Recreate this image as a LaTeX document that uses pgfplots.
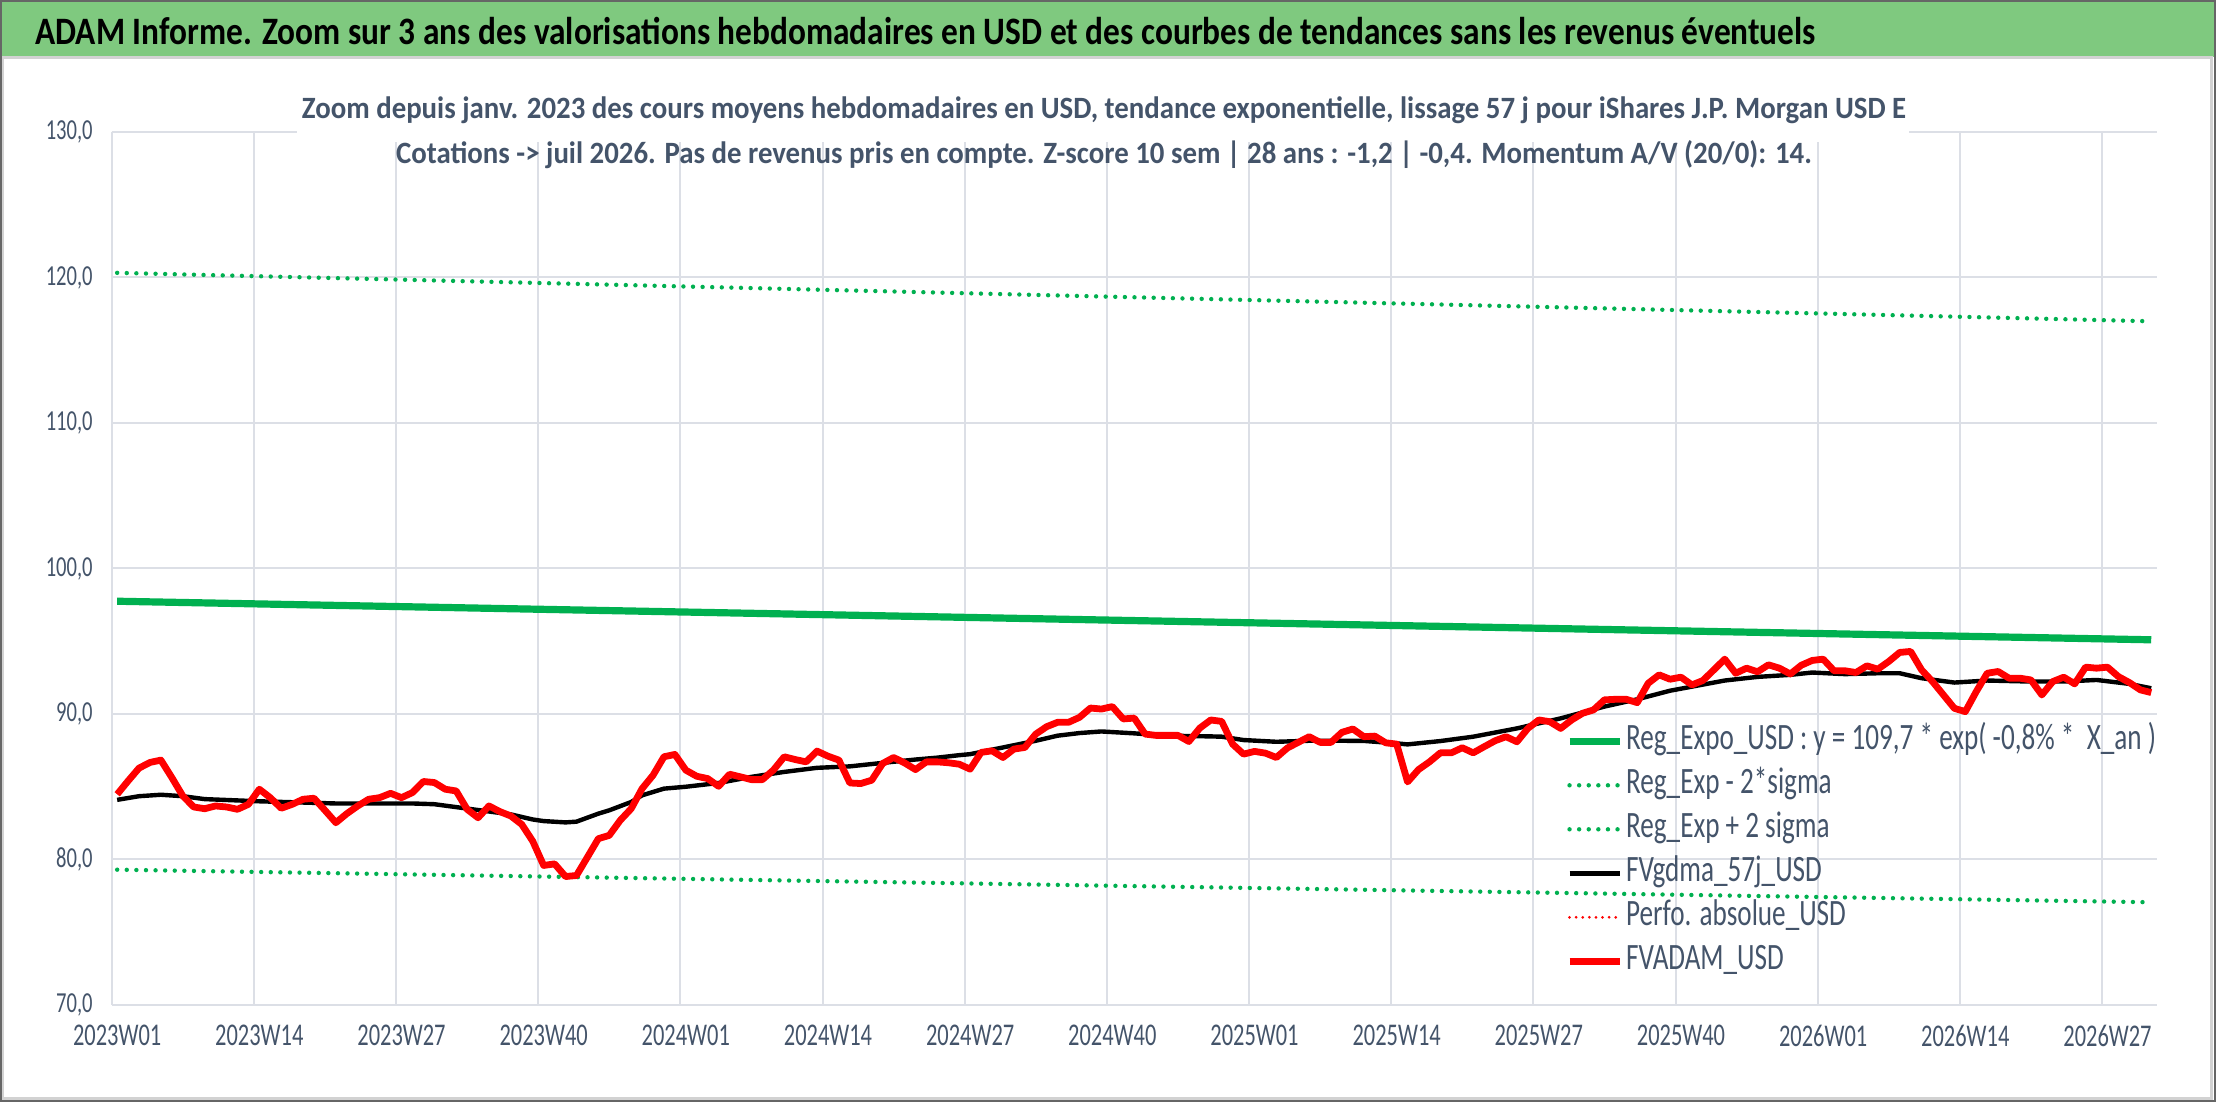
\documentclass[border=0pt]{standalone}
\usepackage{fontspec}
\setmainfont{Carlito}[FakeStretch=0.71]
\newfontfamily\legfont{Carlito}[FakeStretch=0.73]
\newfontfamily\titlefont{Carlito}[FakeStretch=0.86]
\newfontfamily\subfont{Carlito}[FakeStretch=0.93]
\usepackage{pgfplots}
\pgfplotsset{compat=1.18}
\definecolor{bannergreen}{HTML}{7FC97F}
\definecolor{xlgreen}{HTML}{00B050}
\definecolor{txt}{HTML}{44546A}
\definecolor{gridc}{HTML}{DCDFE6}
\begin{document}
\begin{tikzpicture}
\useasboundingbox (0,0) rectangle (1108pt,551pt);
\fill[white] (0,0) rectangle (1108pt,551pt);
\fill[bannergreen] (0,522.5pt) rectangle (1108pt,551pt);
\draw[gray!35, line width=1.5pt] (1pt,1.5pt) rectangle (1105.5pt,522pt);
\draw[gray!80!black, line width=0.8pt] (0.4pt,0.4pt) rectangle (1107.6pt,550.6pt);
\node[anchor=base west, font=\titlefont\bfseries\fontsize{19.4}{22}\selectfont, text=black, inner sep=0pt] at (17.5pt,528.5pt)
  {ADAM Informe. Zoom sur 3 ans des valorisations hebdomadaires en USD et des courbes de tendances sans les revenus éventuels};
\begin{axis}[
  at={(55.85pt,48.5pt)}, anchor=south west,
  scale only axis, width=1022.5pt, height=436.5pt,
  xmin=-0.5, xmax=186.5, ymin=70, ymax=130,
  axis line style={draw=none},
  major tick length=0pt, minor tick length=0pt,
  xtick={0,13,...,182},
  xticklabels={2023W01,2023W14,2023W27,2023W40,2024W01,2024W14,2024W27,2024W40,2025W01,2025W14,2025W27,2025W40,2026W01,2026W14,2026W27},
  minor xtick={-0.5,12.5,...,181.5},
  xminorgrids=true, xmajorgrids=false,
  ytick={70,80,...,130},
  yticklabels={{70,0},{80,0},{90,0},{100,0},{110,0},{120,0},{130,0}},
  ymajorgrids=true,
  grid style={gridc, line width=1pt},
  minor grid style={gridc, line width=1pt},
  tick label style={text=txt},
  yticklabel style={xshift=-6pt, font=\fontsize{14.5}{16}\selectfont},
  xticklabel style={yshift=-6.5pt, font=\fontsize{15.8}{17}\selectfont},
  legend style={at={(0.708,0.330)}, anchor=north west, draw=none, fill=none,
    font=\legfont\fontsize{18.6}{20}\selectfont, text=txt, row sep=2pt,
    nodes={inner sep=1.5pt, anchor=west, text height=12.5pt, text depth=4.5pt}},
  legend cell align=left,
  legend image code/.code={\draw[#1] (0pt,0pt) -- (25pt,0pt);},
]
\addplot[xlgreen, line width=3.6pt] coordinates {(0,97.75) (93,96.42) (186,95.10)};
\addlegendentry{Reg\_Expo\_USD : y = 109,7 * exp( -0,8\% *\ \ X\_an )}
\addplot[xlgreen, line width=2.2pt, line cap=round, dash pattern=on 0pt off 4.8pt] coordinates {(0,79.30) (93,78.17) (186,77.06)};
\addlegendentry{Reg\_Exp - 2*sigma}
\addplot[xlgreen, line width=2.2pt, line cap=round, dash pattern=on 0pt off 4.8pt] coordinates {(0,120.32) (93,118.64) (186,116.99)};
\addlegendentry{Reg\_Exp + 2 sigma}
\addplot[black, line width=2.2pt, line join=round] table {
x y
0 84.1
2 84.35
4 84.45
6 84.35
8 84.15
13 84.0
20 83.85
27 83.85
29 83.8
31 83.6
33 83.4
36 83.1
38 82.75
39 82.64
41 82.55
42 82.6
44 83.15
45 83.38
47 83.95
48 84.41
50 84.87
52 85.0
55 85.26
58 85.68
61 86.02
64 86.30
67 86.40
70 86.64
73 86.87
75 87.0
77 87.17
78 87.24
81 87.70
84 88.16
86 88.51
88 88.69
90 88.80
93 88.67
96 88.51
100 88.46
101 88.44
103 88.21
106 88.09
109 88.16
112 88.16
114 88.15
117 87.98
118 87.91
121 88.14
124 88.44
128 89.01
132 89.70
136 90.51
139 91.01
142 91.60
147 92.30
150 92.55
153 92.69
155 92.85
158 92.74
161 92.80
163 92.80
165 92.46
168 92.16
171 92.30
175 92.23
178 92.23
181 92.34
184 92.07
186 91.77
};
\addlegendentry{FVgdma\_57j\_USD}
\addlegendimage{red, line width=1.5pt, line cap=round, dash pattern=on 0pt off 3.3pt}
\addlegendentry{Perfo. absolue\_USD}
\addplot[red, line width=3.4pt, line join=round] table {
x y
0 84.48
1 85.40
2 86.28
3 86.67
4 86.83
5 85.63
6 84.37
7 83.61
8 83.49
9 83.68
10 83.61
11 83.45
12 83.79
13 84.83
14 84.25
15 83.52
16 83.79
17 84.14
18 84.21
19 83.38
20 82.53
21 83.15
22 83.68
23 84.14
24 84.25
25 84.55
26 84.25
27 84.60
28 85.36
29 85.29
30 84.83
31 84.71
32 83.45
33 82.87
34 83.68
35 83.29
36 82.99
37 82.41
38 81.26
39 79.59
40 79.70
41 78.83
42 78.90
43 80.16
44 81.43
45 81.66
46 82.69
47 83.49
48 84.87
49 85.79
50 87.06
51 87.22
52 86.14
53 85.72
54 85.56
55 85.03
56 85.86
57 85.68
58 85.49
59 85.49
60 86.14
61 87.06
62 86.87
63 86.71
64 87.45
65 87.10
66 86.83
67 85.26
68 85.22
69 85.45
70 86.60
71 87.01
72 86.64
73 86.18
74 86.71
75 86.71
76 86.65
77 86.55
78 86.21
79 87.36
80 87.47
81 87.01
82 87.59
83 87.70
84 88.62
85 89.13
86 89.43
87 89.43
88 89.77
89 90.41
90 90.34
91 90.51
92 89.66
93 89.72
94 88.62
95 88.53
96 88.53
97 88.53
98 88.11
99 89.03
100 89.59
101 89.49
102 87.93
103 87.24
104 87.43
105 87.31
106 87.01
107 87.66
108 88.05
109 88.44
110 88.05
111 88.05
112 88.74
113 88.97
114 88.44
115 88.48
116 88.02
117 87.93
118 85.33
119 86.18
120 86.71
121 87.33
122 87.33
123 87.68
124 87.33
125 87.75
126 88.16
127 88.44
128 88.09
129 89.01
130 89.59
131 89.47
132 89.01
133 89.59
134 90.05
135 90.28
136 90.97
137 91.01
138 91.01
139 90.78
140 92.11
141 92.69
142 92.39
143 92.53
144 92.00
145 92.30
146 93.03
147 93.77
148 92.80
149 93.15
150 92.90
151 93.38
152 93.15
153 92.75
154 93.35
155 93.68
156 93.77
157 92.97
158 92.97
159 92.85
160 93.31
161 93.08
162 93.61
163 94.23
164 94.30
165 93.03
166 92.23
167 91.31
168 90.39
169 90.16
170 91.54
171 92.80
172 92.92
173 92.46
174 92.46
175 92.34
176 91.31
177 92.23
178 92.53
179 92.07
180 93.22
181 93.15
182 93.22
183 92.57
184 92.16
185 91.66
186 91.47
};
\addlegendentry{FVADAM\_USD}
\end{axis}
\fill[white] (148.5pt,480pt) rectangle (954.5pt,490pt);
\node[anchor=base, font=\subfont\bfseries\fontsize{15.5}{18}\selectfont, text=txt, inner sep=0pt] at (552pt,491.7pt)
  {Zoom depuis janv. 2023 des cours moyens hebdomadaires en USD, tendance exponentielle, lissage 57 j pour iShares J.P. Morgan USD E};
\node[anchor=base, font=\subfont\bfseries\fontsize{15.5}{18}\selectfont, text=txt, inner sep=0pt] at (552pt,469.3pt)
  {Cotations -> juil 2026. Pas de revenus pris en compte. Z-score 10 sem | 28 ans : -1,2 | -0,4. Momentum A/V (20/0): 14.};
\end{tikzpicture}
\end{document}
